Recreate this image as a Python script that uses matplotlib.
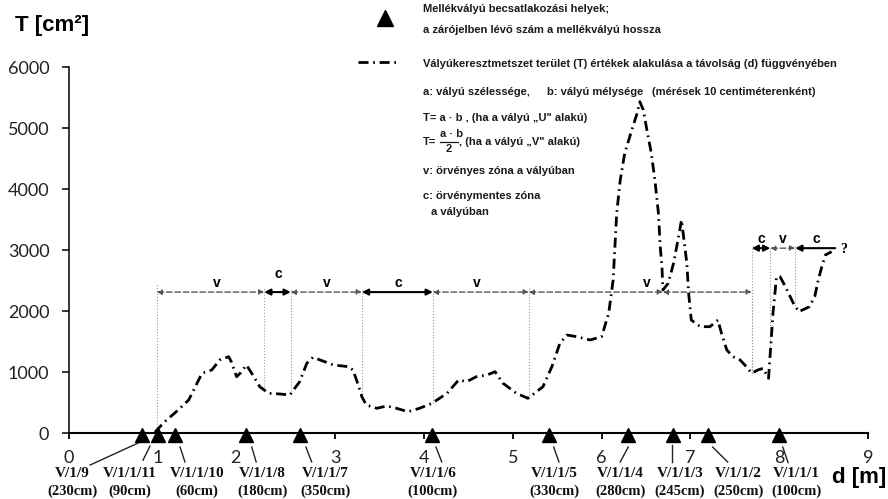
import numpy as np
import matplotlib.pyplot as plt
from matplotlib.lines import Line2D
import matplotlib.transforms as mtransforms

# tavolsag d [m] es keresztmetszet T [cm2]
d = [0.97, 1.08, 1.21, 1.35, 1.50, 1.61, 1.70, 1.80, 1.83, 1.89, 1.93, 2.00, 2.06,
     2.15, 2.25, 2.38, 2.49, 2.53, 2.60, 2.68, 2.75, 2.98, 3.15, 3.20, 3.26, 3.30,
     3.35, 3.47, 3.58, 3.69, 3.82, 3.95, 4.09, 4.26, 4.39, 4.48, 4.59, 4.71, 4.80,
     4.89, 5.04, 5.17, 5.34, 5.44, 5.53, 5.61, 5.72, 5.87, 6.00, 6.08, 6.13, 6.15,
     6.17, 6.21, 6.26, 6.34, 6.40, 6.43, 6.47, 6.51, 6.56, 6.60, 6.64, 6.66, 6.68,
     6.69, 6.75, 6.81, 6.86, 6.90, 6.96, 6.98, 7.01, 7.11, 7.22, 7.31, 7.35, 7.41,
     7.48, 7.56, 7.63, 7.69, 7.76, 7.82, 7.88, 7.93, 7.97, 8.01, 8.07, 8.16, 8.22,
     8.34, 8.40, 8.44, 8.48, 8.52, 8.59]
T = [20, 190, 354, 546, 984, 1038, 1202, 1256, 1174, 928, 984, 1120, 984,
     764, 656, 644, 628, 710, 846, 1148, 1246, 1120, 1092, 1038, 792, 600,
     464, 410, 448, 410, 354, 410, 492, 656, 874, 846, 928, 956, 1010,
     820, 656, 574, 764, 1092, 1475, 1611, 1584, 1530, 1584, 1967, 2513, 3059,
     3607, 4152, 4590, 4972, 5246, 5436, 5300, 4972, 4590, 4152, 3607, 3059, 2731,
     2349, 2459, 2787, 3169, 3497, 2787, 2295, 1857, 1748, 1748, 1857, 1639, 1366,
     1256, 1202, 1092, 984, 1038, 1066, 902, 1967, 2567, 2567, 2403, 2131, 1993,
     2075, 2239, 2513, 2731, 2923, 2977]

# mellekvalyuk
trib_d = [0.82, 1.00, 1.20, 2.00, 2.60, 4.09, 5.41, 6.30, 6.80, 7.20, 8.00]
trib_names = ["V/1/9", "V/1/1/11", "V/1/1/10", "V/1/1/8", "V/1/1/7", "V/1/1/6",
              "V/1/1/5", "V/1/1/4", "V/1/1/3", "V/1/1/2", "V/1/1/1"]
trib_len = ["(230cm)", "(90cm)", "(60cm)", "(180cm)", "(350cm)", "(100cm)",
            "(330cm)", "(280cm)", "(245cm)", "(250cm)", "(100cm)"]
label_d = [0.04, 0.69, 1.44, 2.18, 2.89, 4.10, 5.47, 6.21, 6.88, 7.54, 8.19]
lead_top_d = [0.78, 0.914, 1.253, 2.06, 2.67, 4.135, 5.46, 6.30, 6.79, 7.25, 8.04]
lead_bot_d = [0.24, 0.836, 1.308, 2.11, 2.735, 4.20, 5.52, 6.21, 6.79, 7.42, 8.10]
lead_top_T = [-160, -210, -225, -225, -225, -225, -225, -225, -190, -225, -225]
lead_bot_T = [-520, -440, -470, -470, -470, -470, -470, -470, -470, -470, -480]

# zonak (v: orvenyes, c: orvenymentes)
zone_edges = [0.99, 2.20, 2.50, 3.30, 4.10, 5.18, 6.69, 7.69]
zone_kind = ["v", "c", "v", "c", "v", "v", "v"]
zone_text = ["v", "c", "v", "c", "v", "v", ""]
zone_label_d = [1.67, 2.36, 2.90, 3.71, 4.59, 6.51, 7.2]
zone_level = 2315

zone2_edges = [7.69, 7.90, 8.18, 8.63]
zone2_kind = ["c", "v", "c"]
zone2_label_d = [7.80, 8.04, 8.42]
zone2_level = 3035

fig = plt.figure(figsize=(8.88, 4.99), dpi=100)
ax = fig.add_axes([68.8 / 888, 65.7 / 499, 799.2 / 888, 366.0 / 499])
ax.set_xlim(0, 9)
ax.set_ylim(0, 6000)

for s in ["top", "right"]:
    ax.spines[s].set_visible(False)
ax.spines["bottom"].set_linewidth(1.5)
ax.spines["left"].set_linewidth(1.1)
ax.set_xticks(range(10))
ax.set_yticks(range(0, 7000, 1000))
ax.tick_params(axis="x", length=4, width=1.3, pad=8, labelsize=13)
ax.tick_params(axis="y", length=5, width=1.1, pad=9, labelsize=13)
for lab in ax.get_xticklabels() + ax.get_yticklabels():
    lab.set_fontfamily("Lato")
    lab.set_color("#222222")
# a "2" balra tolva a haromszog miatt
lab2 = ax.get_xticklabels()[2]
lab2.set_transform(lab2.get_transform() + mtransforms.ScaledTranslation(-0.11, 0, fig.dpi_scale_trans))

# gorbe
ax.plot(d, T, color="black", lw=2.0, ls=(0, (3.6, 1.7, 0.6, 1.7)), clip_on=False, zorder=4)

# zonak
gray = "#555555"
def zone_arrow(x0, x1, y, kind, heads="<|-|>"):
    if kind == "v":
        props = dict(arrowstyle=heads, color=gray, lw=1.0, ls=(0, (4, 2)),
                     mutation_scale=7, shrinkA=0, shrinkB=0)
    else:
        props = dict(arrowstyle=heads, color="black", lw=1.5,
                     mutation_scale=9, shrinkA=0, shrinkB=0)
    ax.annotate("", xy=(x1, y), xytext=(x0, y), arrowprops=props)

for i, k in enumerate(zone_kind):
    zone_arrow(zone_edges[i], zone_edges[i + 1], zone_level, k)
    if zone_text[i]:
        yy = zone_level + (300 if zone_text[i] == "c" and i == 1 else 150)
        ax.text(zone_label_d[i], yy, zone_text[i], ha="center", va="center",
                fontsize=10, fontweight="bold", family="Liberation Sans")
for i, k in enumerate(zone2_kind):
    heads = "<|-" if i == len(zone2_kind) - 1 else "<|-|>"
    zone_arrow(zone2_edges[i], zone2_edges[i + 1], zone2_level, k, heads)
    ax.text(zone2_label_d[i], zone2_level + 150, k, ha="center", va="center",
            fontsize=10, fontweight="bold", family="Liberation Sans")
ax.text(zone2_edges[-1] + 0.06, zone2_level - 20, "?", ha="left", va="center",
        fontsize=10, fontweight="bold", family="Liberation Serif")

for j, e in enumerate(zone_edges):
    top = 2460 if j == 0 else zone_level + 60
    ax.plot([e, e], [np.interp(e, d, T), top], color="#999999", lw=0.8, ls=":", zorder=1)
for e in zone2_edges[:-1]:
    ax.plot([e, e], [np.interp(e, d, T), zone2_level + 40], color="#999999", lw=0.8, ls=":", zorder=1)

# mellekvalyu pontok es feliratok
ax.plot(trib_d, [-25] * len(trib_d), ls="none", marker="^", ms=10, color="black",
        clip_on=False, zorder=5)
for i in range(len(trib_d)):
    ax.plot([lead_top_d[i], lead_bot_d[i]], [lead_top_T[i], lead_bot_T[i]],
            color="#222222", lw=1.0, clip_on=False)
    ax.text(label_d[i], -665, trib_names[i], ha="center", va="center",
            fontsize=11, fontweight="bold", family="Liberation Serif", color="#111111")
    ax.text(label_d[i], -955, trib_len[i], ha="center", va="center",
            fontsize=10.5, fontweight="bold", family="Liberation Serif", color="#111111")

# tengelyfeliratok
fig.text(15 / 888, 1 - 25 / 499, "T [cm²]", ha="left", va="center", fontsize=16,
         fontweight="bold", family="Liberation Sans")
fig.text(886 / 888, 1 - 477 / 499, "d [m]", ha="right", va="center", fontsize=16,
         fontweight="bold", family="Liberation Sans")

# jelmagyarazat
def ftext(x, y, s, **kw):
    fig.text(x / 888, 1 - y / 499, s, ha="left", va="center", fontsize=8.0,
             fontweight="bold", family="Liberation Sans", color="#1a1a1a", **kw)

fig.add_artist(Line2D([385 / 888], [1 - 18 / 499], marker="^", ms=11, color="black"))
ftext(423, 9, "Mellékvályú becsatlakozási helyek;")
ftext(423, 30, "a zárójelben lévő szám a mellékvályú hossza")
fig.add_artist(Line2D([358 / 888, 396 / 888], [1 - 62 / 499] * 2, color="black", lw=2.0,
                      ls=(0, (3.6, 1.7, 0.6, 1.7))))
ftext(423, 64, "Vályúkeresztmetszet terület (T) értékek alakulása a távolság (d) függvényében")
ftext(423, 92, "a: vályú szélessége,")
ftext(547, 92, "b: vályú mélysége")
ftext(652, 92, "(mérések 10 centiméterenként)")
ftext(423, 118, "T= a · b , (ha a vályú „U\" alakú)")
ftext(423, 142, "T=")
ftext(440, 134, "a · b")
fig.add_artist(Line2D([440 / 888, 458 / 888], [1 - 141.5 / 499] * 2, color="#1a1a1a", lw=0.9))
ftext(446, 149, "2")
ftext(459, 142, ", (ha a vályú „V\" alakú)")
ftext(423, 171, "v: örvényes zóna a vályúban")
ftext(423, 196, "c: örvénymentes zóna")
ftext(431, 212, "a vályúban")

fig.savefig("out.png", dpi=100)
